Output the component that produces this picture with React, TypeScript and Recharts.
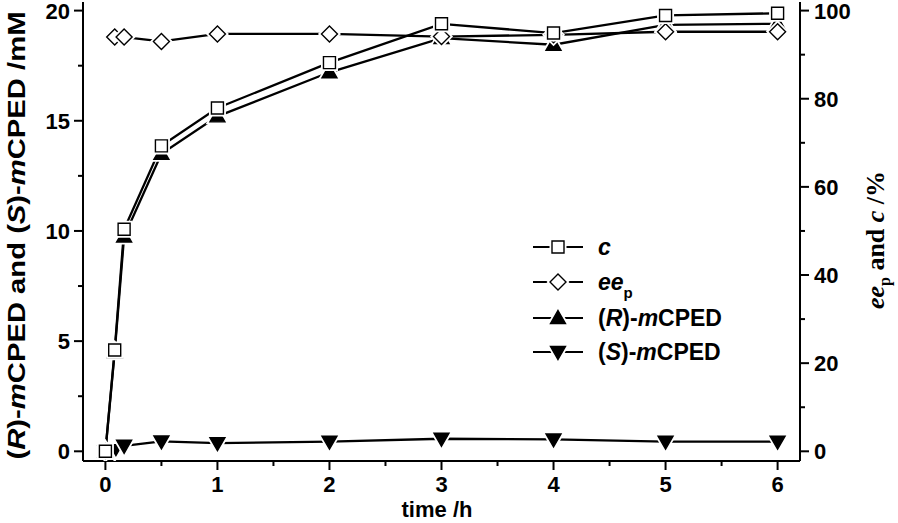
import React from 'react';
import { LineChart, Line, XAxis, YAxis, Customized } from 'recharts';

// time (h)
const times = [0, 0.083, 0.167, 0.5, 1, 2, 3, 4, 5, 6];
// conversion c (%) - right axis
const cPct = [0, 23.0, 50.4, 69.3, 77.9, 88.2, 97.0, 94.9, 98.9, 99.4];
// ee_p (%) - right axis
const eePct = [null, 94.0, 94.0, 93.0, 94.7, 94.7, 94.1, 94.5, 95.2, 95.2];
// (R)-mCPED (mM) - left axis
const rConc = [0, 4.5, 9.75, 13.5, 15.2, 17.2, 18.75, 18.45, 19.35, 19.4];
// (S)-mCPED (mM) - left axis
const sConc = [0, 0.05, 0.25, 0.45, 0.37, 0.44, 0.57, 0.54, 0.44, 0.44];

const xTicks = [0, 0.5, 1, 1.5, 2, 2.5, 3, 3.5, 4, 4.5, 5, 5.5, 6];
const xMajor = [0, 1, 2, 3, 4, 5, 6];
const leftTicks = [0, 2.5, 5, 7.5, 10, 12.5, 15, 17.5, 20];
const leftMajor = [0, 5, 10, 15, 20];
const rightTicks = [0, 10, 20, 30, 40, 50, 60, 70, 80, 90, 100];
const rightMajor = [0, 20, 40, 60, 80, 100];

const data = times.map((t, i) => ({ t, c: cPct[i], ee: eePct[i], R: rConc[i], S: sConc[i] }));

const SANS = '"Liberation Sans", Arial, sans-serif';
const SERIF = '"Liberation Serif", "Times New Roman", serif';
const TICK_FONT = 22;

type ShapeKind = 'square' | 'diamond' | 'up' | 'down';

const shapePath = (kind: ShapeKind, cx: number, cy: number): string => {
  if (kind === 'square') {
    const h = 6;
    return `M${cx - h},${cy - h}H${cx + h}V${cy + h}H${cx - h}Z`;
  }
  if (kind === 'diamond') {
    const h = 8;
    return `M${cx},${cy - h}L${cx + h},${cy}L${cx},${cy + h}L${cx - h},${cy}Z`;
  }
  if (kind === 'up') {
    return `M${cx},${cy - 7.5}L${cx + 7.5},${cy + 5.5}L${cx - 7.5},${cy + 5.5}Z`;
  }
  return `M${cx},${cy + 7.5}L${cx + 7.5},${cy - 5.5}L${cx - 7.5},${cy - 5.5}Z`;
};

const Marker = ({ kind, cx, cy, halo = true }: { kind: ShapeKind; cx: number; cy: number; halo?: boolean }) => {
  const filled = kind === 'up' || kind === 'down';
  const d = shapePath(kind, cx, cy);
  return (
    <g>
      {halo && <path d={d} fill="#fff" stroke="#fff" strokeWidth={5} />}
      <path d={d} fill={filled ? '#000' : '#fff'} stroke="#000" strokeWidth={1.4} />
    </g>
  );
};

const makeDot = (kind: ShapeKind) => (props: any) => {
  const { cx, cy, index, value } = props;
  if (cx == null || cy == null || value == null || Number.isNaN(cy)) return <g key={`d-${kind}-${index}`} />;
  return (
    <g key={`d-${kind}-${index}`}>
      <Marker kind={kind} cx={cx} cy={cy} />
    </g>
  );
};

const LeftTick = (props: any) => {
  const { x, y, payload } = props;
  const major = leftMajor.includes(payload.value);
  return (
    <g>
      <line x1={x} x2={x - (major ? 9 : 5)} y1={y} y2={y} stroke="#000" strokeWidth={2} />
      {major && (
        <text x={x - 13} y={y} dy="0.36em" textAnchor="end" fontFamily={SANS} fontWeight="bold" fontSize={TICK_FONT} fill="#000">
          {payload.value}
        </text>
      )}
    </g>
  );
};

const RightTick = (props: any) => {
  const { x, y, payload } = props;
  const major = rightMajor.includes(payload.value);
  return (
    <g>
      <line x1={x} x2={x + (major ? 9 : 5)} y1={y} y2={y} stroke="#000" strokeWidth={2} />
      {major && (
        <text x={x + 14} y={y} dy="0.36em" textAnchor="start" fontFamily={SANS} fontWeight="bold" fontSize={TICK_FONT} fill="#000">
          {payload.value}
        </text>
      )}
    </g>
  );
};

const BottomTick = (props: any) => {
  const { x, y, payload } = props;
  const major = xMajor.includes(payload.value);
  return (
    <g>
      <line x1={x} x2={x} y1={y} y2={y + (major ? 9 : 5)} stroke="#000" strokeWidth={2} />
      {major && (
        <text x={x} y={y + 31} textAnchor="middle" fontFamily={SANS} fontWeight="bold" fontSize={TICK_FONT} fill="#000">
          {payload.value}
        </text>
      )}
    </g>
  );
};

const LeftLabel = (props: any) => {
  const vb = props.viewBox || { x: 0, y: 2, width: 83, height: 459 };
  const cy = vb.y + vb.height / 2 + 4;
  const cx = 25;
  return (
    <text
      x={cx}
      y={cy}
      transform={`rotate(-90, ${cx}, ${cy})`}
      textAnchor="middle"
      fontFamily={SANS}
      fontWeight="bold"
      fontSize={23}
      textLength={448}
      lengthAdjust="spacingAndGlyphs"
      fill="#000"
    >
      <tspan>(</tspan>
      <tspan fontStyle="italic">R</tspan>
      <tspan>)-</tspan>
      <tspan fontStyle="italic">m</tspan>
      <tspan>CPED and (</tspan>
      <tspan fontStyle="italic">S</tspan>
      <tspan>)-</tspan>
      <tspan fontStyle="italic">m</tspan>
      <tspan>CPED /mM</tspan>
    </text>
  );
};

const RightLabel = () => {
  const cx = 884;
  const cy = 240;
  return (
    <text
      x={cx}
      y={cy}
      transform={`rotate(-90, ${cx}, ${cy})`}
      textAnchor="middle"
      fontFamily={SERIF}
      fontWeight="bold"
      fontSize={26}
      fill="#000"
    >
      <tspan fontStyle="italic">ee</tspan>
      <tspan fontSize={16} dy={6}>p</tspan>
      <tspan dy={-6}> and </tspan>
      <tspan fontStyle="italic">c</tspan>
      <tspan> /%</tspan>
    </text>
  );
};

const BottomLabel = () => (
  <text x={437} y={517} textAnchor="middle" fontFamily={SANS} fontWeight="bold" fontSize={22} fill="#000">
    time /h
  </text>
);

const legendItems: { kind: ShapeKind; label: React.ReactNode }[] = [
  { kind: 'square', label: <tspan fontStyle="italic">c</tspan> },
  {
    kind: 'diamond',
    label: (
      <>
        <tspan fontStyle="italic">ee</tspan>
        <tspan fontSize={15} dy={8}>p</tspan>
      </>
    ),
  },
  {
    kind: 'up',
    label: (
      <>
        <tspan>(</tspan>
        <tspan fontStyle="italic">R</tspan>
        <tspan>)-</tspan>
        <tspan fontStyle="italic">m</tspan>
        <tspan>CPED</tspan>
      </>
    ),
  },
  {
    kind: 'down',
    label: (
      <>
        <tspan>(</tspan>
        <tspan fontStyle="italic">S</tspan>
        <tspan>)-</tspan>
        <tspan fontStyle="italic">m</tspan>
        <tspan>CPED</tspan>
      </>
    ),
  },
];

const LegendBox = () => {
  const rowsY = [247, 282, 318, 352];
  return (
    <g>
      {legendItems.map((it, i) => {
        const y = rowsY[i];
        return (
          <g key={i}>
            <line x1={533} x2={583} y1={y} y2={y} stroke="#000" strokeWidth={2} />
            <Marker kind={it.kind} cx={558} cy={y} />
            <text x={598} y={y} dy="0.36em" fontFamily={SANS} fontWeight="bold" fontSize={23} fill="#000">
              {it.label}
            </text>
          </g>
        );
      })}
    </g>
  );
};

export default function App() {
  return (
    <div style={{ position: 'absolute', left: 0, top: 0, width: 898, height: 523, background: '#fff' }}>
      <LineChart width={898} height={523} data={data} margin={{ top: 2, right: 0, bottom: 0, left: 0 }}>
        <XAxis
          dataKey="t"
          type="number"
          domain={[-0.2, 6.2]}
          ticks={xTicks}
          interval={0}
          height={62}
          tickSize={0}
          tickMargin={0}
          tickLine={false}
          tick={<BottomTick />}
          axisLine={{ stroke: '#000', strokeWidth: 2 }}
          allowDataOverflow
        />
        <YAxis
          yAxisId="L"
          orientation="left"
          type="number"
          domain={[-0.44, 20.39]}
          ticks={leftTicks}
          interval={0}
          width={83}
          tickSize={0}
          tickMargin={0}
          tickLine={false}
          tick={<LeftTick />}
          axisLine={{ stroke: '#000', strokeWidth: 2 }}
          allowDataOverflow
          label={<LeftLabel />}
        />
        <YAxis
          yAxisId="Rt"
          orientation="right"
          type="number"
          domain={[-2.2, 101.95]}
          ticks={rightTicks}
          interval={0}
          width={98}
          tickSize={0}
          tickMargin={0}
          tickLine={false}
          tick={<RightTick />}
          axisLine={{ stroke: '#000', strokeWidth: 2 }}
          allowDataOverflow
        />
        <Line yAxisId="L" dataKey="S" stroke="#000" strokeWidth={2.3} dot={makeDot('down')} isAnimationActive={false} />
        <Line yAxisId="L" dataKey="R" stroke="#000" strokeWidth={2.3} dot={makeDot('up')} isAnimationActive={false} />
        <Line yAxisId="Rt" dataKey="ee" stroke="#000" strokeWidth={2.3} dot={makeDot('diamond')} isAnimationActive={false} />
        <Line yAxisId="Rt" dataKey="c" stroke="#000" strokeWidth={2.3} dot={makeDot('square')} isAnimationActive={false} />
        <Customized component={LegendBox} />
        <Customized component={RightLabel} />
        <Customized component={BottomLabel} />
      </LineChart>
    </div>
  );
}
